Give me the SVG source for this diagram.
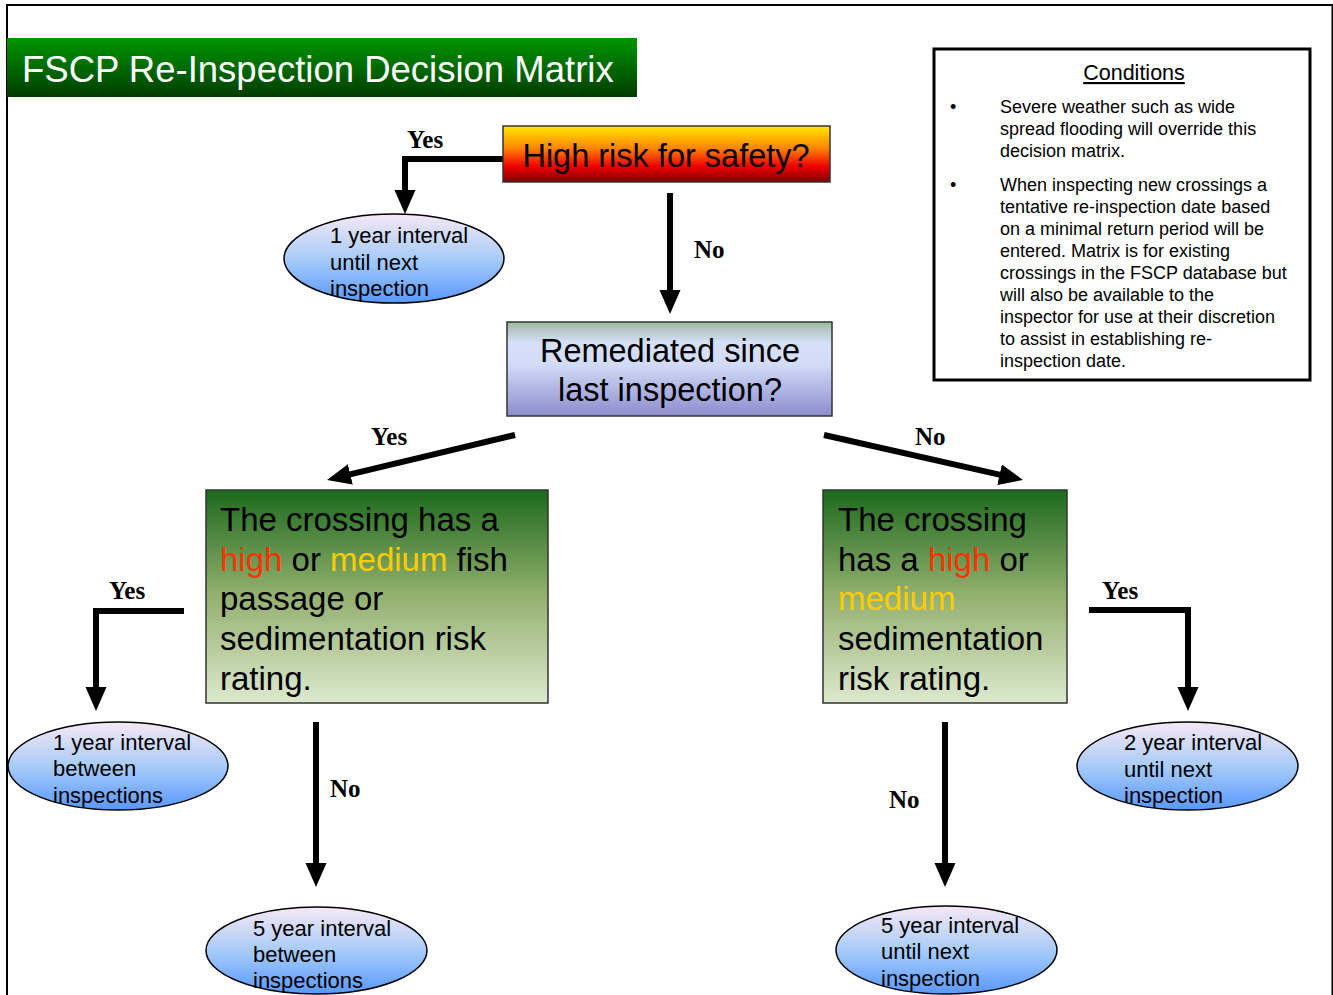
<svg xmlns="http://www.w3.org/2000/svg" width="1333" height="995" viewBox="0 0 1333 995">
<defs>
<linearGradient id="gTitle" x1="0" y1="0" x2="0" y2="1"><stop offset="0" stop-color="#009600"/><stop offset="1" stop-color="#003C00"/></linearGradient>
<linearGradient id="gRisk" x1="0" y1="0" x2="0" y2="1"><stop offset="0" stop-color="#FFE800"/><stop offset="0.4" stop-color="#FF8400"/><stop offset="0.72" stop-color="#F00000"/><stop offset="1" stop-color="#7A0000"/></linearGradient>
<linearGradient id="gRem" x1="0" y1="0" x2="0" y2="1"><stop offset="0" stop-color="#A0B8A0"/><stop offset="0.22" stop-color="#D6E0FA"/><stop offset="0.45" stop-color="#D2DCF8"/><stop offset="1" stop-color="#8C8CCC"/></linearGradient>
<linearGradient id="gCross" x1="0" y1="0" x2="0" y2="1"><stop offset="0" stop-color="#1C6A1C"/><stop offset="0.5" stop-color="#94B070"/><stop offset="1" stop-color="#DDE9CE"/></linearGradient>
<linearGradient id="gEll" x1="0" y1="0" x2="0" y2="1"><stop offset="0" stop-color="#F6E8F6"/><stop offset="0.5" stop-color="#A8CCF8"/><stop offset="1" stop-color="#5898FF"/></linearGradient>
<marker id="ah" markerUnits="userSpaceOnUse" markerWidth="24" markerHeight="24" viewBox="0 0 24 24" refX="10" refY="12" orient="auto"><path d="M0,1.5 L24,12 L0,22.5 Z" fill="#000"/></marker>
</defs>
<style>
.frame{fill:none;stroke:#000;stroke-width:2}
.box{stroke:#333;stroke-width:1.5}
.ell{fill:url(#gEll);stroke:#000;stroke-width:1.5}
.conn{fill:none;stroke:#000;stroke-width:6;marker-end:url(#ah)}
.lbl{font-family:"Liberation Serif","Times New Roman",serif;font-weight:bold;font-size:25px;fill:#000}
.big{font-family:"Liberation Sans",Arial,sans-serif;font-size:32.5px;fill:#000}
.cr{font-family:"Liberation Sans",Arial,sans-serif;font-size:33px;fill:#000}
.et{font-family:"Liberation Sans",Arial,sans-serif;font-size:22px;fill:#000}
.ct{font-family:"Liberation Sans",Arial,sans-serif;font-size:18px;fill:#000}
.hi{fill:#FF3300}
.med{fill:#FFCC00}
</style>
<rect class="frame" x="7" y="5" width="1325.5" height="1010"/>
<g id="title">
<rect x="7" y="38" width="630" height="59" fill="url(#gTitle)"/>
<text x="22" y="82" font-family="Liberation Sans, Arial, sans-serif" font-size="36.5" fill="#fff">FSCP Re-Inspection Decision Matrix</text>
</g>
<g id="conditions">
<rect x="934" y="49" width="376" height="331" fill="#fff" stroke="#000" stroke-width="3"/>
<text x="1134" y="80" text-anchor="middle" font-family="Liberation Sans, Arial, sans-serif" font-size="21.5" text-decoration="underline">Conditions</text>
<text class="ct" x="950" y="113">•</text>
<text class="ct" x="1000" y="113">Severe weather such as wide</text>
<text class="ct" x="1000" y="135">spread flooding will override this</text>
<text class="ct" x="1000" y="157">decision matrix.</text>
<text class="ct" x="950" y="191">•</text>
<text class="ct" x="1000" y="191">When inspecting new crossings a</text>
<text class="ct" x="1000" y="213">tentative re-inspection date based</text>
<text class="ct" x="1000" y="235">on a minimal return period will be</text>
<text class="ct" x="1000" y="257">entered. Matrix is for existing</text>
<text class="ct" x="1000" y="279">crossings in the FSCP database but</text>
<text class="ct" x="1000" y="301">will also be available to the</text>
<text class="ct" x="1000" y="323">inspector for use at their discretion</text>
<text class="ct" x="1000" y="345">to assist in establishing re-</text>
<text class="ct" x="1000" y="367">inspection date.</text>
</g>
<g id="connectors">
<path class="conn" d="M503,159 H405 V200"/>
<path class="conn" d="M670,193 V300"/>
<path class="conn" d="M515,435 L340.6,476.7"/>
<path class="conn" d="M824,435 L1009.3,476.9"/>
<path class="conn" d="M184,611 H96 V697"/>
<path class="conn" d="M316,722 V873"/>
<path class="conn" d="M1089,610 H1188 V697"/>
<path class="conn" d="M945,722 V873"/>
<text class="lbl" x="407" y="148">Yes</text>
<text class="lbl" x="694" y="258">No</text>
<text class="lbl" x="371" y="445">Yes</text>
<text class="lbl" x="915" y="445">No</text>
<text class="lbl" x="109" y="599">Yes</text>
<text class="lbl" x="330" y="797">No</text>
<text class="lbl" x="1102" y="599">Yes</text>
<text class="lbl" x="889" y="808">No</text>
</g>
<g id="high-risk">
<rect class="box" x="503" y="126" width="327" height="56" fill="url(#gRisk)"/>
<text class="big" x="666" y="167" text-anchor="middle">High risk for safety?</text>
</g>
<g id="one-year-top">
<ellipse class="ell" cx="394" cy="258.5" rx="110" ry="44.5"/>
<text class="et" x="330" y="243">1 year interval</text>
<text class="et" x="330" y="270">until next</text>
<text class="et" x="330" y="296">inspection</text>
</g>
<g id="remediated">
<rect class="box" x="507" y="322" width="325" height="94" fill="url(#gRem)"/>
<text class="big" x="670" y="362" text-anchor="middle">Remediated since</text>
<text class="big" x="670" y="401" text-anchor="middle">last inspection?</text>
</g>
<g id="crossing-left">
<rect class="box" x="206" y="490" width="342" height="213" fill="url(#gCross)"/>
<text class="cr" x="220" y="531">The crossing has a</text>
<text class="cr" x="220" y="571"><tspan class="hi">high</tspan> or <tspan class="med">medium</tspan> fish</text>
<text class="cr" x="220" y="610">passage or</text>
<text class="cr" x="220" y="650">sedimentation risk</text>
<text class="cr" x="220" y="690">rating.</text>
</g>
<g id="crossing-right">
<rect class="box" x="823" y="490" width="244" height="213" fill="url(#gCross)"/>
<text class="cr" x="838" y="531">The crossing</text>
<text class="cr" x="838" y="571">has a <tspan class="hi">high</tspan> or</text>
<text class="cr" x="838" y="610"><tspan class="med">medium</tspan></text>
<text class="cr" x="838" y="650">sedimentation</text>
<text class="cr" x="838" y="690">risk rating.</text>
</g>
<g id="one-year-between">
<ellipse class="ell" cx="118" cy="766" rx="110" ry="44"/>
<text class="et" x="53" y="750">1 year interval</text>
<text class="et" x="53" y="776">between</text>
<text class="et" x="53" y="803">inspections</text>
</g>
<g id="five-year-between">
<ellipse class="ell" cx="316.5" cy="950.5" rx="110.5" ry="43.5"/>
<text class="et" x="253" y="936">5 year interval</text>
<text class="et" x="253" y="962">between</text>
<text class="et" x="253" y="988">inspections</text>
</g>
<g id="two-year">
<ellipse class="ell" cx="1187.5" cy="766" rx="110.5" ry="44"/>
<text class="et" x="1124" y="750">2 year interval</text>
<text class="et" x="1124" y="777">until next</text>
<text class="et" x="1124" y="803">inspection</text>
</g>
<g id="five-year-until">
<ellipse class="ell" cx="946.5" cy="950" rx="110.5" ry="44"/>
<text class="et" x="881" y="933">5 year interval</text>
<text class="et" x="881" y="959">until next</text>
<text class="et" x="881" y="986">inspection</text>
</g>
</svg>
